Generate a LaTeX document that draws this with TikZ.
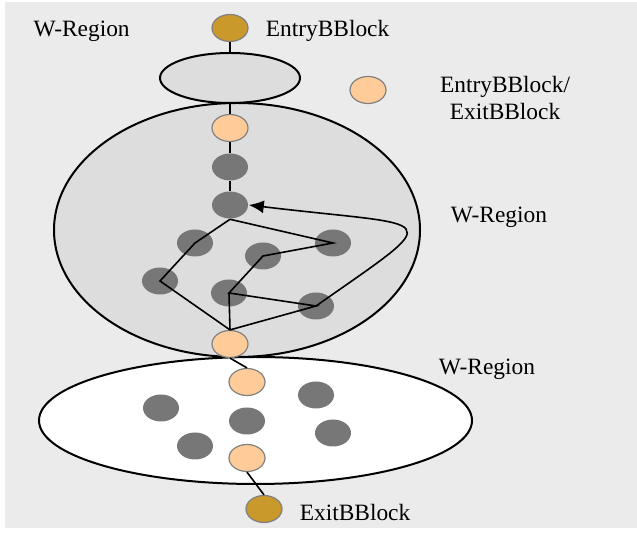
\documentclass[tikz,border=0pt]{standalone}
\usepackage{fontspec}
\setmainfont{Liberation Serif}
\usetikzlibrary{arrows.meta, shapes.geometric}
\definecolor{bggray}{RGB}{235,235,235}
\definecolor{regiongray}{RGB}{221,221,221}
\definecolor{blockgray}{RGB}{119,119,119}
\definecolor{peach}{RGB}{255,204,153}
\definecolor{gold}{RGB}{201,153,43}
\tikzset{
    bblock/.style={ellipse, inner sep=0pt, minimum width=18pt, minimum height=13.5pt, fill=blockgray},
    portblock/.style={bblock, fill=peach, draw=gray, line width=0.6pt},
    endblock/.style={bblock, fill=gold, draw=gray, line width=0.6pt},
    wregion/.style={ellipse, draw=black, line width=1pt, inner sep=0pt},
    lbl/.style={font=\fontsize{11.7}{13.5}\selectfont, inner sep=0pt}
}

\begin{document}
\begin{tikzpicture}[x=0.5pt, y=-0.5pt, line width=0.8pt, >={Latex[length=7.5pt, width=6.5pt]}]
        \useasboundingbox (0,0) rectangle (637,533);
        \fill[bggray] (5,2) rectangle (637,528);
        % regions
        \node[wregion, fill=regiongray, minimum width=70pt, minimum height=25pt] (rtop) at (230,78) {};
        \node[wregion, fill=regiongray, minimum width=183pt, minimum height=127pt] (rmid) at (237,230) {};
        \node[wregion, fill=white, minimum width=216.5pt, minimum height=63.5pt] (rlow) at (255.5,420.5) {};
        % basic blocks
        \node[endblock] (entry) at (230,28) {};
        \node[portblock] (legend) at (368,90) {};
        \node[portblock] (p1) at (230,128) {};
        \node[bblock] (d1) at (230,167) {};
        \node[bblock] (d2) at (230,205) {};
        \node[bblock] (b1) at (195,243) {};
        \node[bblock] (b2) at (263,256) {};
        \node[bblock] (b3) at (333,243) {};
        \node[bblock] (b4) at (160,281) {};
        \node[bblock] (b5) at (229,293) {};
        \node[bblock] (b6) at (316,306) {};
        \node[portblock] (p2) at (230,344) {};
        \node[portblock] (q1) at (247,382) {};
        \foreach \x/\y [count=\i] in {161/408, 247/421, 316/395, 195/446, 333/433}
            \node[bblock] (c\i) at (\x,\y) {};
        \node[portblock] (q2) at (247,458) {};
        \node[endblock] (exit) at (264,509) {};
        % edges
        \draw (entry.south) -- (rtop.north) (rtop.south) -- (p1.north) (p1.south) -- (d1.north) (d1.south) -- (d2.north);
        \draw (d2.south) -- (b1.center) -- (b4.center) -- (p2.north);
        \draw (p2.north) -- (b6.center) -- (b5.center) -- (b2.center) -- (b3.center) -- (d2.south);
        \draw (b5.center) -- (p2.north);
        \draw[->] (b6.center) .. controls (450,212) and (440,228) .. (d2.east);
        \draw (p2.south) -- (q1.north) (q2.south) -- (exit.north);
        % labels
        \node[lbl, anchor=base west] (tregion) at (32.7,36.7) {W-Region};
        \node[lbl, anchor=base west] (tentry) at (265,36.7) {EntryBBlock};
        \node[lbl, align=center] (tlegend) at (505,98.5) {EntryBBlock/\\ExitBBlock};
        \node[lbl, anchor=base west] (tmid) at (450,222.7) {W-Region};
        \node[lbl, anchor=base west] (tlow) at (438,375) {W-Region};
        \node[lbl, anchor=base west] (texit) at (299,521) {ExitBBlock};
    \end{tikzpicture}
\end{document}
